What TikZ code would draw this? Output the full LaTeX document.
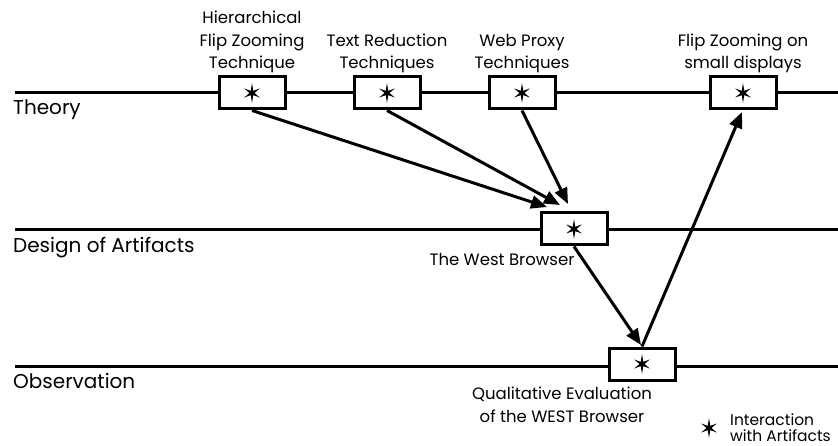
\documentclass[tikz,border=0pt]{standalone}
\usepackage{fontspec}
\setmainfont{Poppins}
\usetikzlibrary{arrows.meta}

\begin{document}
\begin{tikzpicture}[x=1pt,y=-1pt,font=\fontsize{16.5}{22.5}\selectfont,
  linea/.style={line width=3pt},
  caja/.style={draw,line width=3pt,fill=white,minimum width=66pt,minimum height=32pt,inner sep=0pt},
  flecha/.style={line width=3pt,-{Triangle[length=16pt,width=13pt]}},
  rotulo/.style={align=center,inner sep=1pt},
  nivel/.style={anchor=base west,inner sep=0pt,font=\fontsize{20}{24}\selectfont},
  estrella/.pic={\fill (90:10pt) -- (120:2.5pt) -- (150:9pt) -- (180:2.5pt) -- (210:9pt)
    -- (240:2.5pt) -- (270:10pt) -- (300:2.5pt) -- (330:9pt) -- (0:2.5pt) -- (30:9pt)
    -- (60:2.5pt) -- cycle;}]
\useasboundingbox (0,0) rectangle (838,446);
% Niveles
\draw[linea] (15,93) -- (838,93);
\draw[linea] (15,230) -- (838,230);
\draw[linea] (15,366) -- (838,366);
\node[nivel] (teoria) at (13,115) {Theory};
\node[nivel] (diseno) at (13,253) {Design of Artifacts};
\node[nivel] (obs) at (13,388) {Observation};
% Cajas
\node[caja] (t1) at (252,93) {};
\node[caja] (t2) at (387,93) {};
\node[caja] (t3) at (522,93) {};
\node[caja] (t4) at (743,93) {};
\node[caja] (d) at (574,229) {};
\node[caja] (o) at (642,364) {};
\foreach \n in {t1,t2,t3,t4,d,o}
  \pic at (\n) {estrella};
% Rotulos
\node[rotulo,anchor=south] at (252,74) {Hierarchical\\Flip Zooming\\Technique};
\node[rotulo,anchor=south] at (387,74) {Text Reduction\\Techniques};
\node[rotulo,anchor=south] at (522,74) {Web Proxy\\Techniques};
\node[rotulo,anchor=south] at (743,74) {Flip Zooming on\\small displays};
\node[rotulo,anchor=north] (wb) at (502,252) {The West Browser};
\node[rotulo,anchor=north] (qe) at (562,386) {Qualitative Evaluation\\of the WEST Browser};
% Flechas
\coordinate (p1) at (547,207);
\coordinate (p2) at (560,205);
\coordinate (p3) at (568,204);
\coordinate (p4) at (641,345);
\coordinate (p5) at (742,112);
\draw[flecha] (t1.south) -- (p1);
\draw[flecha] (t2.south) -- (p2);
\draw[flecha] (t3.south) -- (p3);
\draw[flecha] (d.south) -- (p4);
\draw[flecha] (o.north) -- (p5);
% Leyenda
\pic (ley) at (709,428) {estrella};
\node[rotulo,anchor=west,align=left,font=\fontsize{15.5}{16}\selectfont] (txt) at (729,428) {Interaction\\with Artifacts};
\end{tikzpicture}
\end{document}
